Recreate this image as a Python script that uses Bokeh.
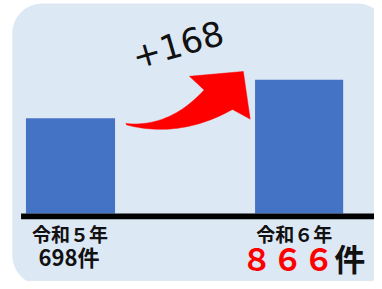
import numpy as np
from bokeh.plotting import figure
from bokeh.models import Range1d, BoxAnnotation
from bokeh.core.properties import value
from bokeh.embed import file_html
from bokeh.resources import INLINE

# ---- data ----
categories = ["令和５年", "令和６年"]
counts = [698, 866]
count_prefix = ["698件", "８６６"]
count_suffix = ["", "件"]
diff_label = "+168"

# ---- layout (reference pixel space for x; value space for y) ----
W, H = 374, 281
RW, RH = 382, 289       # reference picture size mapped onto the figure
B = 168 / 39.5          # value units per reference pixel
A = 866 + 81.5 * B


def ry(Y):
    return A - B * Y


p = figure(width=W, height=H, x_range=Range1d(0, RW),
           y_range=Range1d(ry(RH), ry(0)),
           output_backend="svg", toolbar_location=None, min_border=0)
p.axis.visible = False
p.grid.visible = False
p.outline_line_color = None
p.background_fill_color = "white"
p.border_fill_color = "white"

# rounded light-blue panel
p.add_layout(BoxAnnotation(left=12, right=395, bottom=ry(293), top=ry(3),
                           fill_color="#dde8f5", fill_alpha=1.0,
                           line_color=None, border_radius=30, level="underlay"))

# bars
bar_x = [71.5, 305]
bar_w = [91, 90]
base = ry(219)
p.vbar(x=bar_x, width=bar_w, top=counts, bottom=base,
       fill_color="#4472c4", line_color=None)

# baseline
p.quad(left=[21], right=[382], bottom=[ry(225)], top=[ry(219)],
       fill_color="black", line_color=None)


# curved red arrow
def qbez(p0, c, p2, n=30):
    t = np.linspace(0, 1, n)[:, None]
    p0, c, p2 = map(np.array, (p0, c, p2))
    return (1 - t) ** 2 * p0 + 2 * (1 - t) * t * c + t ** 2 * p2


upper = qbez((128, 126.5), (172.5, 131), (208, 92))
lower = qbez((237, 112), (183.5, 142), (129, 128))
head = np.array([(193, 78), (248, 73), (255, 122)])
pts = np.vstack([upper, head, lower])
p.patch(x=pts[:, 0], y=ry(pts[:, 1]), fill_color="#ff0000", line_color="#ff0000",
        line_width=0.5)

# difference label
p.text(x=[181], y=[ry(45)], text=[diff_label], angle=16, angle_units="deg",
       text_align="center", text_baseline="middle",
       text_font=value("DejaVu Sans"), text_font_size="34px", text_color="#111111")

# category labels
jp = value("Noto Sans CJK JP")
p.text(x=[71, 300], y=[ry(240), ry(240)], text=categories,
       text_align="center", text_baseline="middle", text_font=jp,
       text_font_style="bold", text_font_size="19px", text_color="#111111")

# count labels
p.text(x=[70], y=[ry(263)], text=[count_prefix[0]], text_align="center",
       text_baseline="middle", text_font=jp, text_font_style="bold",
       text_font_size="22px", text_color="#111111")
p.text(x=[341], y=[ry(264)], text=[count_prefix[1]], text_align="right",
       text_baseline="middle", text_font=jp, text_font_style="bold",
       text_font_size="31px", text_color="#ff0000")
p.text(x=[341], y=[ry(264)], text=[count_suffix[1]], text_align="left",
       text_baseline="middle", text_font=jp, text_font_style="bold",
       text_font_size="31px", text_color="#111111")

open("out.html", "w").write(file_html(p, INLINE))
